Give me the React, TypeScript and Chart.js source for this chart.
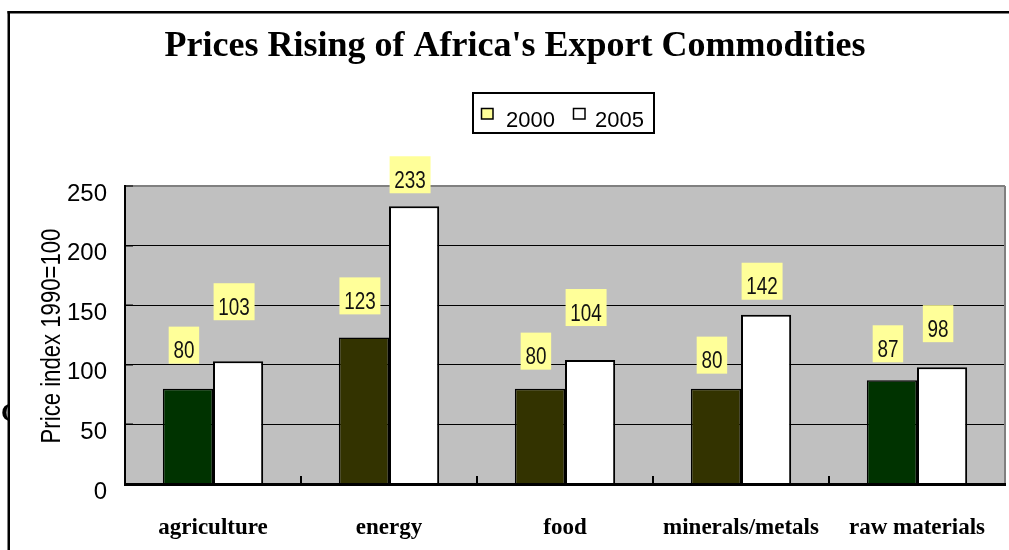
import { useEffect, useRef } from "react";
import { Chart, registerables } from "chart.js";

Chart.register(...registerables);

// ---- data ----
const categories = ["agriculture", "energy", "food", "minerals/metals", "raw materials"];
const values2000 = [80, 123, 80, 80, 87];
const values2005 = [103, 233, 104, 142, 98];
const seriesLabels = ["2000", "2005"];
const yTickValues = [0, 50, 100, 150, 200, 250];
const chartTitle = "Prices Rising of Africa's Export Commodities";
const yAxisTitle = "Price index 1990=100";

// ---- styles ----
const colors2000 = ["#003300", "#333300", "#333300", "#333300", "#003300"];
const SANS = "'Liberation Sans', Arial, sans-serif";
const SERIF = "'Liberation Serif', 'Times New Roman', serif";
const NARROW_SCALE = 0.82;
// manual nudges of the data-label boxes above each bar (px)
const labelNudge2000 = [25, 23, 19, 15, 18];
const labelNudge2005 = [41, 13, 34, 15, 25];

function narrowText(ctx: CanvasRenderingContext2D, txt: string, x: number, y: number) {
  ctx.save();
  ctx.translate(x, y);
  ctx.scale(NARROW_SCALE, 1);
  ctx.fillText(txt, 0, 0);
  ctx.restore();
}

const decor = {
  id: "decor",
  beforeDraw(chart: any) {
    const { ctx, chartArea: a } = chart;
    ctx.save();
    ctx.fillStyle = "#ffffff";
    ctx.fillRect(0, 0, chart.width, chart.height);
    ctx.fillStyle = "#C0C0C0";
    ctx.fillRect(a.left, a.top, a.right - a.left, a.bottom - a.top);
    ctx.restore();
  },
  afterDatasetsDraw(chart: any) {
    const { ctx, chartArea: a } = chart;
    const w = a.right - a.left;
    const h = a.bottom - a.top;
    ctx.save();
    // plot frame
    ctx.fillStyle = "#808080";
    ctx.fillRect(a.left, a.top - 1, w, 2);
    ctx.fillRect(a.right - 1, a.top, 2, h);
    ctx.fillStyle = "#000000";
    ctx.fillRect(a.left - 1, a.top - 1, 2, h + 1);
    ctx.fillRect(a.left - 1, a.bottom - 1, w + 2, 3);
    // inward y tick marks
    const ys = chart.scales.y;
    yTickValues.forEach((v) => {
      const y = Math.round(ys.getPixelForValue(v));
      ctx.fillRect(a.left, y - 0.5, 8, 1);
    });
    // inward x tick marks at category boundaries
    const xs = chart.scales.x;
    for (let i = 1; i < categories.length; i++) {
      const x = (xs.getPixelForValue(i - 1) + xs.getPixelForValue(i)) / 2;
      ctx.fillRect(x - 1, a.bottom - 8, 2, 8);
    }
    ctx.restore();
  },
  afterDraw(chart: any) {
    const { ctx } = chart;
    ctx.save();
    // outer frame
    ctx.fillStyle = "#000000";
    ctx.fillRect(7.5, 11, 2.5, chart.height - 11);
    ctx.fillRect(7.5, 11, chart.width - 7.5, 2.5);

    // clipped glyph at the left edge
    ctx.save();
    ctx.beginPath();
    ctx.rect(0, 380, 9, 60);
    ctx.clip();
    ctx.font = `bold 26px ${SERIF}`;
    ctx.textAlign = "left";
    ctx.textBaseline = "alphabetic";
    ctx.fillText("C", 1, 421);
    ctx.restore();

    // title
    ctx.font = `bold 36px ${SERIF}`;
    ctx.textAlign = "center";
    ctx.textBaseline = "alphabetic";
    ctx.fillStyle = "#000";
    ctx.fillText(chartTitle, 515, 56);

    // y-axis title
    ctx.save();
    ctx.translate(59.5, 336);
    ctx.rotate(-Math.PI / 2);
    ctx.font = `27px ${SANS}`;
    ctx.fillStyle = "#000";
    ctx.textAlign = "center";
    ctx.textBaseline = "alphabetic";
    narrowText(ctx, yAxisTitle, 0, 0);
    ctx.restore();

    // legend
    ctx.lineWidth = 2;
    ctx.strokeStyle = "#000";
    ctx.strokeRect(473, 93, 181, 40);
    const swatches = ["#FFFF99", "#FFFFFF"];
    const swX = [481, 573];
    const txX = [506, 595];
    ctx.font = `22px ${SANS}`;
    ctx.textAlign = "left";
    ctx.textBaseline = "alphabetic";
    chart.data.datasets.forEach((ds: any, i: number) => {
      ctx.fillStyle = swatches[i];
      ctx.fillRect(swX[i], 108, 12, 11);
      ctx.lineWidth = 1.5;
      ctx.strokeRect(swX[i] + 0.5, 108.5, 11.5, 10.5);
      ctx.fillStyle = "#000";
      ctx.fillText(ds.label, txX[i], 127);
    });

    // data labels
    ctx.font = `23px ${SANS}`;
    ctx.textAlign = "center";
    chart.data.datasets.forEach((ds: any, di: number) => {
      const meta = chart.getDatasetMeta(di);
      const nudges = di === 0 ? labelNudge2000 : labelNudge2005;
      meta.data.forEach((bar: any, i: number) => {
        const txt = String(ds.data[i]);
        const tw = ctx.measureText(txt).width * NARROW_SCALE;
        const bw = tw + 9.5;
        const bh = 37;
        const cx = bar.x - 4;
        const bottom = bar.y - nudges[i];
        ctx.fillStyle = "#FFFF99";
        ctx.fillRect(cx - bw / 2, bottom - bh, bw, bh);
        ctx.fillStyle = "#111";
        narrowText(ctx, txt, cx, bottom - 5.5);
      });
    });
    ctx.restore();
  },
};

export default function App() {
  const ref = useRef<HTMLCanvasElement | null>(null);
  useEffect(() => {
    if (!ref.current) return;
    const chart = new Chart(ref.current, {
      type: "bar",
      data: {
        labels: categories,
        datasets: [
          {
            label: seriesLabels[0],
            data: values2000,
            backgroundColor: colors2000,
            borderColor: "#000",
            borderWidth: 1.5,
            categoryPercentage: 0.57,
            barPercentage: 1,
          },
          {
            label: seriesLabels[1],
            data: values2005,
            backgroundColor: "#FFFFFF",
            borderColor: "#000",
            borderWidth: 2,
            categoryPercentage: 0.57,
            barPercentage: 1,
          },
        ],
      },
      options: {
        responsive: false,
        animation: false,
        devicePixelRatio: 1,
        layout: { padding: { top: 186, right: 4, left: 0, bottom: 0 } },
        plugins: {
          legend: { display: false },
          title: { display: false },
          tooltip: { enabled: false },
        },
        scales: {
          x: {
            grid: { display: false },
            border: { display: false },
            ticks: {
              color: "#000",
              padding: 22,
              font: { family: SERIF, size: 23, weight: "bold" },
              maxRotation: 0,
            },
            afterFit: (s: any) => {
              s.height = 66;
            },
          },
          y: {
            min: 0,
            max: 250,
            afterBuildTicks: (s: any) => {
              s.ticks = yTickValues.map((v) => ({ value: v }));
            },
            grid: {
              color: (c: any) =>
                c.tick && (c.tick.value === 0 || c.tick.value === 250) ? "rgba(0,0,0,0)" : "#000",
              lineWidth: 1,
              drawTicks: false,
            },
            border: { display: false },
            ticks: {
              color: "#000",
              padding: 18,
              labelOffset: 8,
              font: { family: SANS, size: 24 },
            },
            afterFit: (s: any) => {
              s.width = 125;
            },
          },
        },
      },
      plugins: [decor],
    });
    return () => chart.destroy();
  }, []);
  return (
    <div style={{ position: "absolute", left: 0, top: 0, width: 1009, height: 550 }}>
      <canvas ref={ref} width={1009} height={550} style={{ display: "block" }} />
    </div>
  );
}
